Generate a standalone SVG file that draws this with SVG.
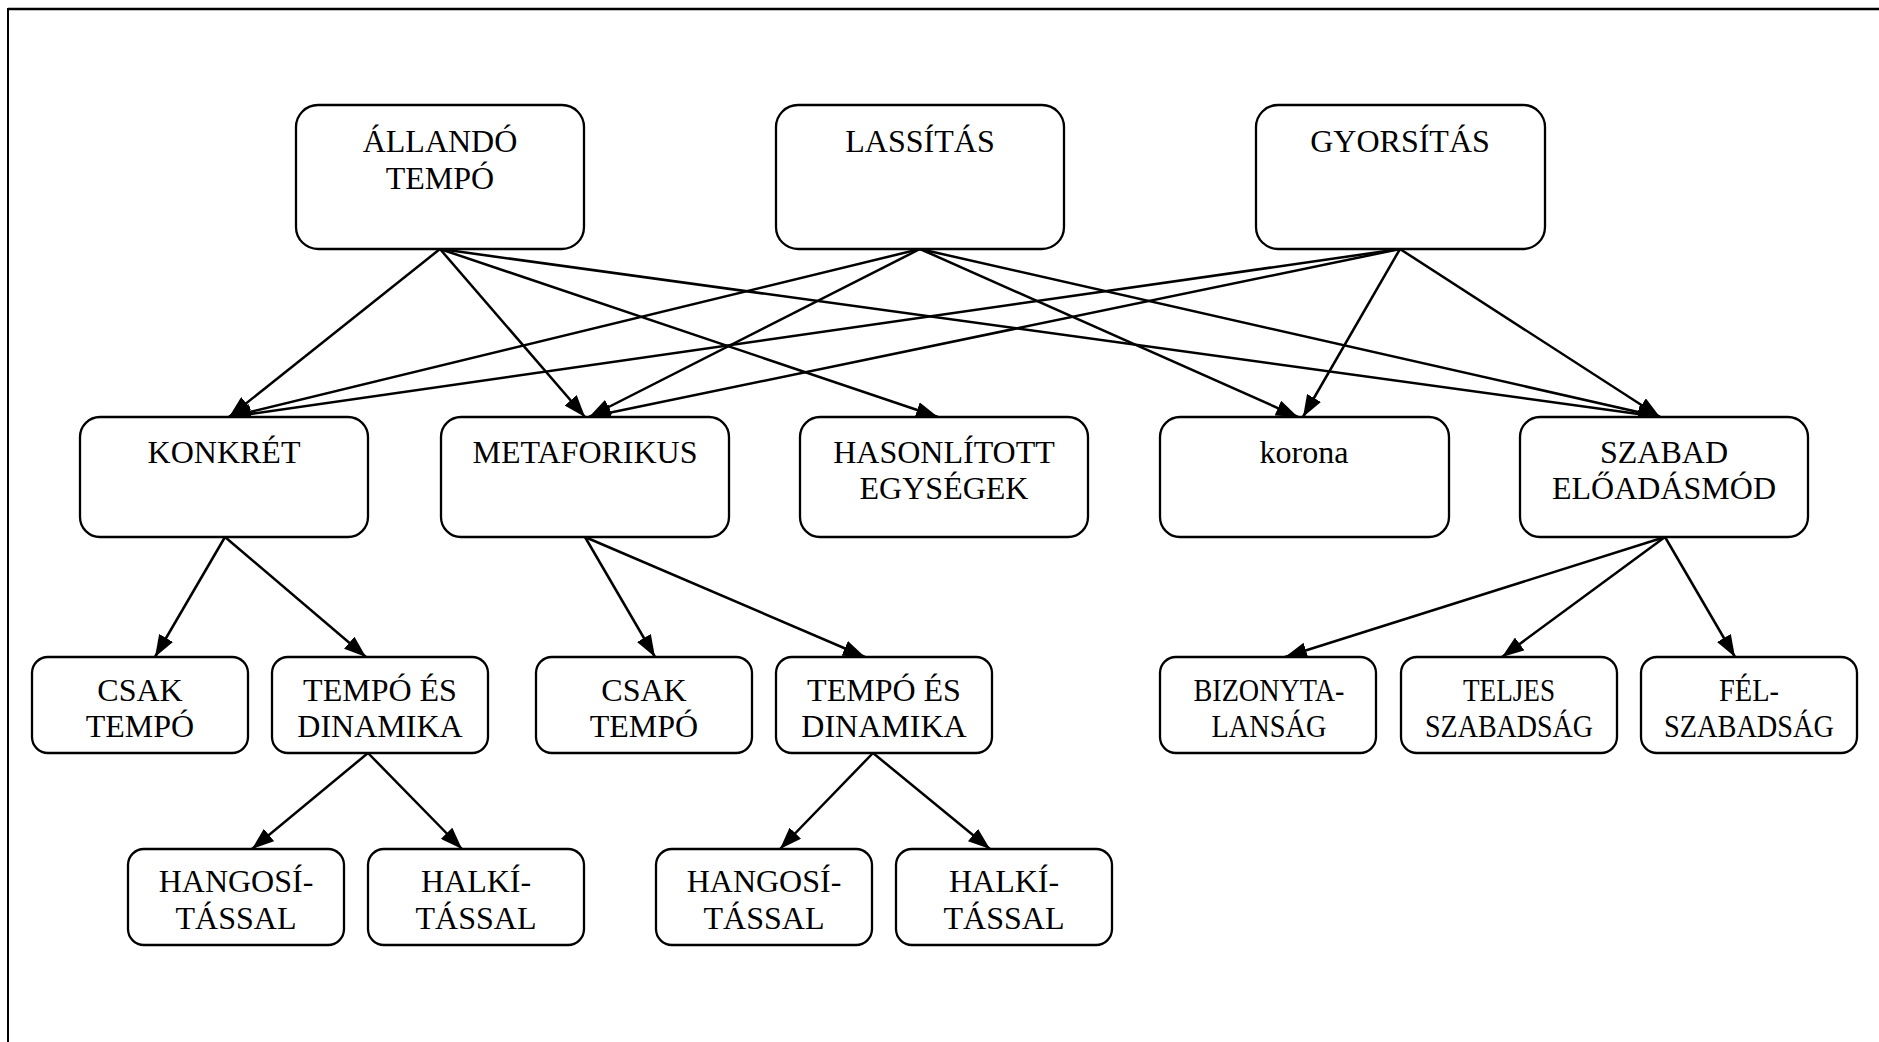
<svg xmlns="http://www.w3.org/2000/svg" width="1879" height="1042" viewBox="0 0 1879 1042">
<style>
.box{fill:#fff;stroke:#000;stroke-width:2.3}
.t{font-family:'Liberation Serif','Times New Roman',serif;font-size:32px;fill:#000;text-anchor:middle}
.c{stroke:#000;stroke-width:2.5;fill:none;marker-end:url(#ah)}
.frame{stroke:#000;fill:none}
</style>
<defs>
<marker id="ah" markerUnits="userSpaceOnUse" markerWidth="22" markerHeight="16" viewBox="0 0 22 16" refX="22" refY="8" orient="auto">
<path d="M0,0 L22,8 L0,16 Z" fill="#000"/>
</marker>
</defs>
<rect width="1879" height="1042" fill="#fff"/>
<g id="frame">
<line class="frame" x1="8" y1="9" x2="1879" y2="9" stroke-width="2.5"/>
<line class="frame" x1="8" y1="8" x2="8" y2="1042" stroke-width="2"/>
</g>
<g id="connectors">
<line class="c" x1="440" y1="249" x2="229" y2="417"/>
<line class="c" x1="440" y1="249" x2="585" y2="417"/>
<line class="c" x1="440" y1="249" x2="938" y2="417"/>
<line class="c" x1="440" y1="249" x2="1660" y2="417"/>
<line class="c" x1="920" y1="249" x2="229" y2="417"/>
<line class="c" x1="920" y1="249" x2="589" y2="417"/>
<line class="c" x1="920" y1="249" x2="1298" y2="417"/>
<line class="c" x1="920" y1="249" x2="1660" y2="417"/>
<line class="c" x1="1400" y1="249" x2="229" y2="417"/>
<line class="c" x1="1400" y1="249" x2="589" y2="417"/>
<line class="c" x1="1400" y1="249" x2="1303" y2="417"/>
<line class="c" x1="1400" y1="249" x2="1660" y2="417"/>
<line class="c" x1="225" y1="537" x2="155" y2="657"/>
<line class="c" x1="225" y1="537" x2="366" y2="657"/>
<line class="c" x1="585" y1="537" x2="655" y2="657"/>
<line class="c" x1="585" y1="537" x2="865" y2="657"/>
<line class="c" x1="1665" y1="537" x2="1285" y2="657"/>
<line class="c" x1="1665" y1="537" x2="1502" y2="657"/>
<line class="c" x1="1665" y1="537" x2="1735" y2="657"/>
<line class="c" x1="368" y1="753" x2="252" y2="849"/>
<line class="c" x1="368" y1="753" x2="462" y2="849"/>
<line class="c" x1="873" y1="753" x2="780" y2="849"/>
<line class="c" x1="873" y1="753" x2="990" y2="849"/>
</g>
<g id="allando"><rect class="box" x="296" y="105" width="288" height="144" rx="22"/><text class="t" x="440" y="152">ÁLLANDÓ</text><text class="t" x="440" y="189">TEMPÓ</text></g>
<g id="lassitas"><rect class="box" x="776" y="105" width="288" height="144" rx="22"/><text class="t" x="920" y="152">LASSÍTÁS</text></g>
<g id="gyorsitas"><rect class="box" x="1256" y="105" width="289" height="144" rx="22"/><text class="t" x="1400" y="152">GYORSÍTÁS</text></g>
<g id="konkret"><rect class="box" x="80" y="417" width="288" height="120" rx="20"/><text class="t" x="224" y="463">KONKRÉT</text></g>
<g id="metaforikus"><rect class="box" x="441" y="417" width="288" height="120" rx="20"/><text class="t" x="585" y="463">METAFORIKUS</text></g>
<g id="hasonlitott"><rect class="box" x="800" y="417" width="288" height="120" rx="20"/><text class="t" x="944" y="463">HASONLÍTOTT</text><text class="t" x="944" y="499">EGYSÉGEK</text></g>
<g id="korona"><rect class="box" x="1160" y="417" width="289" height="120" rx="20"/><text class="t" x="1304" y="463">korona</text></g>
<g id="szabad"><rect class="box" x="1520" y="417" width="288" height="120" rx="20"/><text class="t" x="1664" y="463">SZABAD</text><text class="t" x="1664" y="499">ELŐADÁSMÓD</text></g>
<g id="csak1"><rect class="box" x="32" y="657" width="216" height="96" rx="16"/><text class="t" x="140" y="701">CSAK</text><text class="t" x="140" y="737">TEMPÓ</text></g>
<g id="tempoes1"><rect class="box" x="272" y="657" width="216" height="96" rx="16"/><text class="t" x="380" y="701">TEMPÓ ÉS</text><text class="t" x="380" y="737">DINAMIKA</text></g>
<g id="csak2"><rect class="box" x="536" y="657" width="216" height="96" rx="16"/><text class="t" x="644" y="701">CSAK</text><text class="t" x="644" y="737">TEMPÓ</text></g>
<g id="tempoes2"><rect class="box" x="776" y="657" width="216" height="96" rx="16"/><text class="t" x="884" y="701">TEMPÓ ÉS</text><text class="t" x="884" y="737">DINAMIKA</text></g>
<g id="bizonytalansag"><rect class="box" x="1160" y="657" width="216" height="96" rx="16"/><text class="t" x="1269" y="701" textLength="151" lengthAdjust="spacingAndGlyphs">BIZONYTA-</text><text class="t" x="1269" y="737" textLength="115" lengthAdjust="spacingAndGlyphs">LANSÁG</text></g>
<g id="teljes"><rect class="box" x="1401" y="657" width="216" height="96" rx="16"/><text class="t" x="1509" y="701" textLength="92" lengthAdjust="spacingAndGlyphs">TELJES</text><text class="t" x="1509" y="737" textLength="168" lengthAdjust="spacingAndGlyphs">SZABADSÁG</text></g>
<g id="fel"><rect class="box" x="1641" y="657" width="216" height="96" rx="16"/><text class="t" x="1749" y="701" textLength="60" lengthAdjust="spacingAndGlyphs">FÉL-</text><text class="t" x="1749" y="737" textLength="170" lengthAdjust="spacingAndGlyphs">SZABADSÁG</text></g>
<g id="hangos1"><rect class="box" x="128" y="849" width="216" height="96" rx="16"/><text class="t" x="236" y="892">HANGOSÍ-</text><text class="t" x="236" y="929">TÁSSAL</text></g>
<g id="halk1"><rect class="box" x="368" y="849" width="216" height="96" rx="16"/><text class="t" x="476" y="892">HALKÍ-</text><text class="t" x="476" y="929">TÁSSAL</text></g>
<g id="hangos2"><rect class="box" x="656" y="849" width="216" height="96" rx="16"/><text class="t" x="764" y="892">HANGOSÍ-</text><text class="t" x="764" y="929">TÁSSAL</text></g>
<g id="halk2"><rect class="box" x="896" y="849" width="216" height="96" rx="16"/><text class="t" x="1004" y="892">HALKÍ-</text><text class="t" x="1004" y="929">TÁSSAL</text></g>
</svg>
